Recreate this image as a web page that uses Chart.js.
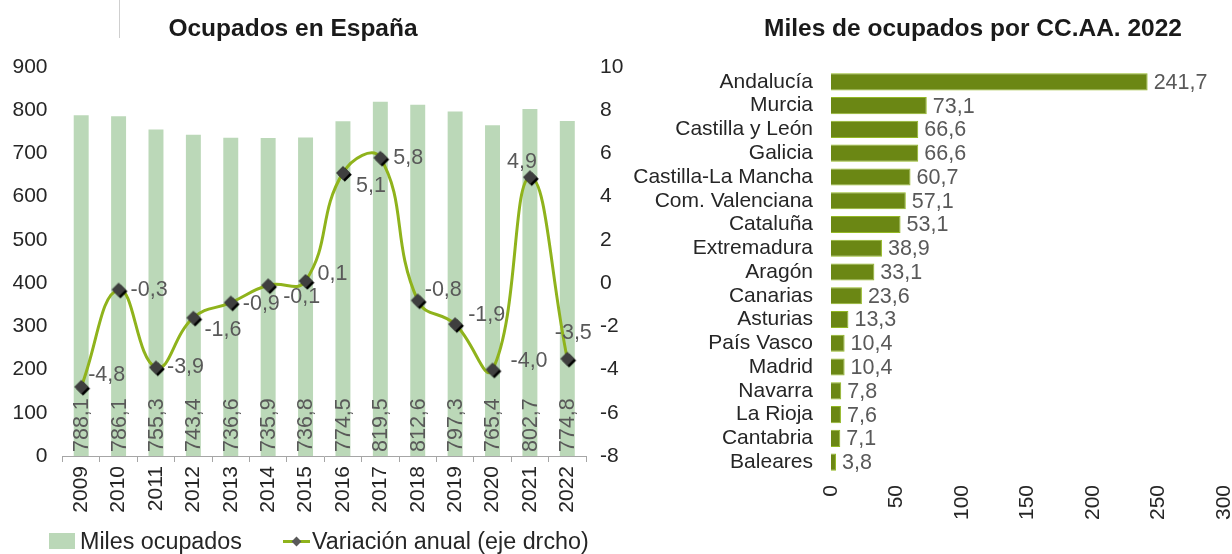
<!DOCTYPE html>
<html>
<head>
<meta charset="utf-8">
<script src="https://cdn.jsdelivr.net/npm/chart.js@4.4.1/dist/chart.umd.min.js"></script>
<style>
  body { margin: 0; background: #fff; font-family: "Liberation Sans", Arial, sans-serif; }
  #wrap { position: relative; width: 1232px; height: 554px; overflow: hidden; }
  canvas { position: absolute; top: 0; }
  .title { position: absolute; top: 14px; line-height: 28px; font-size: 24.5px; font-weight: bold; color: #1a1a1a; white-space: nowrap; transform: translateX(-50%); }
  .leg { position: absolute; top: 527px; line-height: 28px; font-size: 23.3px; color: #262626; white-space: nowrap; }
</style>
</head>
<body>
<div id="wrap">
  <div style="position:absolute;left:119px;top:0;width:1px;height:38px;background:#cfcfcf"></div>
  <canvas id="left" width="640" height="554" style="left:0"></canvas>
  <canvas id="right" width="612" height="554" style="left:620px"></canvas>
  <div class="title" style="left:293px">Ocupados en España</div>
  <div class="title" style="left:973px">Miles de ocupados por CC.AA. 2022</div>
  <!-- legend -->
  <div style="position:absolute;left:49px;top:533px;width:26px;height:16px;background:#bbd8b8"></div>
  <div class="leg" style="left:80px">Miles ocupados</div>
  <div style="position:absolute;left:283px;top:539.5px;width:27px;height:3px;background:#8fb31c"></div>
  <div style="position:absolute;left:293px;top:537.5px;width:7px;height:7px;background:#595959;transform:rotate(45deg)"></div>
  <div class="leg" style="left:312px">Variación anual (eje drcho)</div>
</div>
<script>
// datos
const years = ['2009', '2010', '2011', '2012', '2013', '2014', '2015', '2016', '2017', '2018', '2019', '2020', '2021', '2022'];
const ocupados = [788.1, 786.1, 755.3, 743.4, 736.6, 735.9, 736.8, 774.5, 819.5, 812.6, 797.3, 765.4, 802.7, 774.8];
const variacion = [-4.8, -0.3, -3.9, -1.6, -0.9, -0.1, 0.1, 5.1, 5.8, -0.8, -1.9, -4.0, 4.9, -3.5];
const ejeIzq = [0, 100, 200, 300, 400, 500, 600, 700, 800, 900];
const ejeDer = [-8, -6, -4, -2, 0, 2, 4, 6, 8, 10];

const ccaa = ['Andalucía', 'Murcia', 'Castilla y León', 'Galicia', 'Castilla-La Mancha', 'Com. Valenciana', 'Cataluña', 'Extremadura', 'Aragón', 'Canarias', 'Asturias', 'País Vasco', 'Madrid', 'Navarra', 'La Rioja', 'Cantabria', 'Baleares'];
const ocupadosCCAA = [241.7, 73.1, 66.6, 66.6, 60.7, 57.1, 53.1, 38.9, 33.1, 23.6, 13.3, 10.4, 10.4, 7.8, 7.6, 7.1, 3.8];
const ejeCCAA = [0, 50, 100, 150, 200, 250, 300];

// where each line label sits relative to its point: [dx, dy, align]
const lineLabelPos = [[7, -12, 'left'], [12, 0, 'left'], [11, 0, 'left'], [11, 12, 'left'], [12, 2, 'left'], [15, 12, 'left'], [12, -7, 'left'],
  [13, 13, 'left'], [13, 0, 'left'], [7, -10, 'left'], [13, -9, 'left'], [18, -8, 'left'], [-8, -15, 'center'], [6, -26, 'center']];

const FONT = '"Liberation Sans", Arial, sans-serif';
const fmt = v => v.toFixed(1).replace('.', ',');
const tickColor = '#262626';
const labelColor = '#595959';

Chart.defaults.font.family = FONT;
Chart.defaults.animation = false;

// marker: dark diamond with a small black shadow
function diamond() {
  const c = document.createElement('canvas');
  c.width = 20; c.height = 20;
  const g = c.getContext('2d');
  const d = (cx, cy, r, col) => {
    g.beginPath();
    g.moveTo(cx, cy - r); g.lineTo(cx + r, cy); g.lineTo(cx, cy + r); g.lineTo(cx - r, cy);
    g.closePath(); g.fillStyle = col; g.fill();
  };
  d(11.8, 11.8, 7, '#000');
  d(10, 10, 7, '#3f3f3f');
  return c;
}

const barLabels = {
  id: 'barLabels',
  afterDatasetDraw(chart, args) {
    if (args.index !== 0) return;
    const ctx = chart.ctx;
    ctx.save();
    ctx.font = '21.5px ' + FONT;
    ctx.fillStyle = labelColor;
    ctx.textAlign = 'left';
    ctx.textBaseline = 'middle';
    args.meta.data.forEach((bar, i) => {
      ctx.save();
      ctx.translate(bar.x + 1, bar.base - 4);
      ctx.rotate(-Math.PI / 2);
      ctx.fillText(fmt(ocupados[i]), 0, 0);
      ctx.restore();
    });
    ctx.restore();
  }
};

const lineLabels = {
  id: 'lineLabels',
  afterDatasetsDraw(chart) {
    const ctx = chart.ctx;
    const meta = chart.getDatasetMeta(1);
    ctx.save();
    ctx.font = '21.5px ' + FONT;
    ctx.fillStyle = labelColor;
    ctx.textBaseline = 'middle';
    meta.data.forEach((pt, i) => {
      const p = lineLabelPos[i];
      ctx.textAlign = p[2];
      ctx.fillText(fmt(variacion[i]), pt.x + p[0], pt.y + p[1]);
    });
    ctx.restore();
  }
};

new Chart(document.getElementById('left'), {
  type: 'bar',
  data: {
    labels: years,
    datasets: [{
      type: 'bar',
      label: 'Miles ocupados',
      data: ocupados,
      yAxisID: 'y',
      backgroundColor: '#bbd8b8',
      barPercentage: 0.4,
      categoryPercentage: 1,
      order: 1
    }, {
      type: 'line',
      label: 'Variación anual (eje drcho)',
      data: variacion,
      yAxisID: 'y1',
      borderColor: '#8fb31c',
      borderWidth: 3,
      tension: 0.45,
      pointStyle: diamond(),
      pointRadius: 7,
      order: 0
    }]
  },
  options: {
    responsive: false,
    layout: { padding: { top: 67, left: 0, right: 0, bottom: 0 } },
    plugins: { legend: { display: false }, tooltip: { enabled: false } },
    scales: {
      x: {
        grid: { display: true, drawOnChartArea: false, drawTicks: true, tickLength: 6, color: '#a6a6a6', offset: true },
        border: { display: true, color: '#a6a6a6' },
        ticks: { minRotation: 90, maxRotation: 90, padding: 4, color: tickColor, font: { size: 21 } },
        afterFit: s => { s.height = 98; s.paddingLeft = 0; s.paddingRight = 0; }
      },
      y: {
        position: 'left', min: 0, max: 900,
        afterBuildTicks: s => { s.ticks = ejeIzq.map(v => ({ value: v })); },
        grid: { display: false, drawTicks: false }, border: { display: false },
        ticks: { padding: 15, color: tickColor, font: { size: 21 } },
        afterFit: s => { s.width = 62.5; s.paddingTop = 0; s.paddingBottom = 0; }
      },
      y1: {
        position: 'right', min: -8, max: 10,
        afterBuildTicks: s => { s.ticks = ejeDer.map(v => ({ value: v })); },
        grid: { display: false, drawTicks: false }, border: { display: false },
        ticks: { padding: 14, color: tickColor, font: { size: 21 } },
        afterFit: s => { s.width = 54; s.paddingTop = 0; s.paddingBottom = 0; }
      }
    }
  },
  plugins: [barLabels, lineLabels]
});

const valueLabels = {
  id: 'valueLabels',
  afterDatasetsDraw(chart) {
    const ctx = chart.ctx;
    ctx.save();
    ctx.font = '21.5px ' + FONT;
    ctx.fillStyle = labelColor;
    ctx.textAlign = 'left';
    ctx.textBaseline = 'middle';
    chart.getDatasetMeta(0).data.forEach((bar, i) => {
      ctx.fillText(fmt(ocupadosCCAA[i]), bar.x + 6, bar.y + 1);
    });
    ctx.restore();
  }
};

new Chart(document.getElementById('right'), {
  type: 'bar',
  data: {
    labels: ccaa,
    datasets: [{
      label: 'Miles de ocupados 2022',
      data: ocupadosCCAA,
      backgroundColor: '#6b8714',
      borderColor: '#93b824',
      borderWidth: 1,
      barPercentage: 0.72,
      categoryPercentage: 1
    }]
  },
  options: {
    indexAxis: 'y',
    responsive: false,
    layout: { padding: { top: 70, left: 0, right: 8, bottom: 0 } },
    plugins: { legend: { display: false }, tooltip: { enabled: false } },
    scales: {
      x: {
        min: 0, max: 300,
        afterBuildTicks: s => { s.ticks = ejeCCAA.map(v => ({ value: v })); },
        grid: { display: false, drawTicks: false }, border: { display: false },
        ticks: { minRotation: 90, maxRotation: 90, padding: 11, color: tickColor, font: { size: 21 } },
        afterFit: s => { s.height = 80; s.paddingLeft = 0; s.paddingRight = 0; }
      },
      y: {
        grid: { display: false, drawTicks: false }, border: { display: false },
        ticks: { autoSkip: false, padding: 18, color: tickColor, font: { size: 21 } },
        afterFit: s => { s.width = 211; s.paddingTop = 0; s.paddingBottom = 0; }
      }
    }
  },
  plugins: [valueLabels]
});
</script>
</body>
</html>
